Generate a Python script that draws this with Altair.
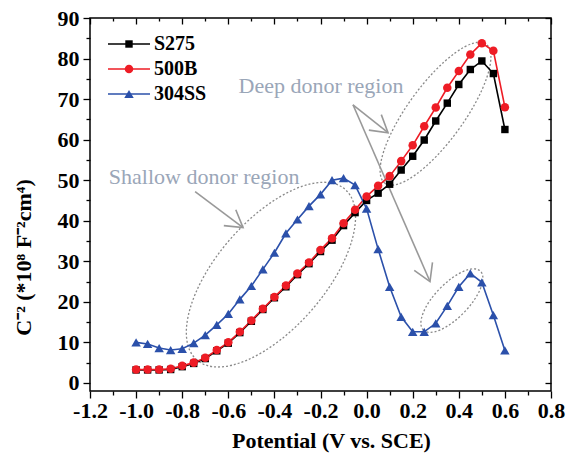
import math
import altair as alt
import pandas as pd

# ---- measured C^-2 vs potential data -------------------------------------
potential = [-1.00, -0.95, -0.90, -0.85, -0.80, -0.75, -0.70, -0.65, -0.60, -0.55,
             -0.50, -0.45, -0.40, -0.35, -0.30, -0.25, -0.20, -0.15, -0.10, -0.05,
             0.00, 0.05, 0.10, 0.15, 0.20, 0.25, 0.30, 0.35, 0.40, 0.45,
             0.50, 0.55, 0.60]
s275 = [3.2, 3.2, 3.2, 3.3, 4.0, 4.8, 6.0, 7.9, 9.8, 12.4,
        15.2, 18.1, 21.0, 23.7, 26.7, 29.4, 32.4, 35.2, 38.8, 42.0,
        45.0, 46.8, 49.0, 52.5, 55.9, 59.9, 64.6, 69.0, 73.6, 77.3,
        79.4, 76.3, 62.5]
b500 = [3.3, 3.3, 3.3, 3.5, 4.2, 5.0, 6.2, 8.1, 10.0, 12.6,
        15.4, 18.3, 21.2, 24.0, 27.0, 29.7, 32.8, 35.7, 39.4, 42.7,
        46.0, 48.6, 51.0, 54.7, 58.6, 63.3, 67.9, 72.8, 76.9, 81.0,
        83.8, 81.9, 68.0]
ss304 = [10.0, 9.6, 8.6, 8.1, 8.4, 9.8, 11.8, 14.3, 17.0, 20.6,
         23.9, 28.0, 32.1, 36.9, 40.3, 43.6, 46.5, 50.0, 50.5, 48.8,
         43.0, 33.0, 23.7, 16.3, 12.6, 12.6, 14.7, 19.0, 23.7, 27.0,
         24.8, 16.7, 8.0]

samples = ["S275", "500B", "304SS"]
colors = ["#000000", "#ee1c25", "#2b50aa"]
shapes = ["square", "circle", "triangle-up"]
marker_sizes = [55, 90, 110]

x_major = [-1.2, -1.0, -0.8, -0.6, -0.4, -0.2, 0.0, 0.2, 0.4, 0.6, 0.8]
x_minor = [-1.1, -0.9, -0.7, -0.5, -0.3, -0.1, 0.1, 0.3, 0.5, 0.7]
y_major = [0, 10, 20, 30, 40, 50, 60, 70, 80, 90]
y_minor = [5, 15, 25, 35, 45, 55, 65, 75, 85]

# ---- annotation geometry (data units) -------------------------------------
region_labels = ["Shallow donor region", "Deep donor region"]
label_x = [-0.705, -0.198]
label_y = [50.9, 73.3]

arrow_x0 = [-0.744, -0.059, -0.059]
arrow_y0 = [47.2, 68.6, 68.6]
arrow_x1 = [-0.536, 0.093, 0.275]
arrow_y1 = [38.3, 61.7, 25.0]

# ellipses: centre (data units), semi-axes in px, tilt in degrees (clockwise)
ell_cx = [-0.415, 0.299, 0.370]
ell_cy = [26.7, 66.4, 20.3]
ell_a = [113, 86, 41]
ell_b = [54, 28, 17]
ell_tilt = [311, 306, 314]

# ---- layout ----------------------------------------------------------------
W, H = 461, 373
X_DOM = [-1.2, 0.8]
Y_DOM = [-2, 90]
FONT = "Liberation Serif"
GREY = "#999999"
NOTE = "#9aa6b8"

px_per_x = W / (X_DOM[1] - X_DOM[0])
px_per_y = H / (Y_DOM[1] - Y_DOM[0])

rows = []
for name, vals in zip(samples, [s275, b500, ss304]):
    for p, v in zip(potential, vals):
        rows.append({"potential": p, "value": v, "sample": name})
df = pd.DataFrame(rows)

xscale = alt.Scale(domain=X_DOM, nice=False, zero=False)
yscale = alt.Scale(domain=Y_DOM, nice=False, zero=False)
cscale = alt.Scale(domain=samples, range=colors)
sscale = alt.Scale(domain=samples, range=shapes)
zscale = alt.Scale(domain=samples, range=marker_sizes)

tick_style = dict(domain=False, grid=False, tickColor="black", tickWidth=1.3)
label_style = dict(labelFont=FONT, labelFontSize=22, labelFontWeight="bold",
                   labelColor="black", labelOverlap=False, labelFlush=False)


def xenc(axis):
    return alt.X("potential:Q", scale=xscale, axis=axis)


def yenc(axis):
    return alt.Y("value:Q", scale=yscale, axis=axis)


ax_bottom = alt.Axis(orient="bottom", values=x_major, tickSize=7, labelPadding=2,
                     labelExpr="replace(datum.label, '\u2212', '-')",
                     title="Potential (V vs. SCE)", titleFont=FONT, titleFontSize=22,
                     titleFontWeight="bold", titleColor="black", titleX=241, titleY=56,
                     titleAlign="center", titleBaseline="alphabetic",
                     **tick_style, **label_style)
ax_left = alt.Axis(orient="left", values=y_major, tickSize=7, labelPadding=4,
                   title="C\u207b\u00b2 (*10\u2078 F\u207b\u00b2cm\u2074)", titleFont=FONT,
                   titleFontSize=22, titleFontWeight="bold", titleColor="black",
                   titleAngle=270, titleX=-67, titleY=239, titleAlign="center",
                   titleBaseline="middle", **tick_style, **label_style)
ax_bottom_minor = alt.Axis(orient="bottom", values=x_minor, tickSize=4, labels=False,
                           title="", **tick_style)
ax_left_minor = alt.Axis(orient="left", values=y_minor, tickSize=4, labels=False,
                         title="", **tick_style)
ax_top = alt.Axis(orient="bottom", offset=-H, values=x_major, tickSize=6, labels=False,
                  title="", **tick_style)
ax_top_minor = alt.Axis(orient="bottom", offset=-H, values=x_minor, tickSize=3,
                        labels=False, title="", **tick_style)
ax_right = alt.Axis(orient="left", offset=-W, values=y_major, tickSize=6, labels=False,
                    title="", **tick_style)
ax_right_minor = alt.Axis(orient="left", offset=-W, values=y_minor, tickSize=3,
                          labels=False, title="", **tick_style)

base = alt.Chart(df)

lines = base.mark_line(strokeWidth=1.6).encode(
    x=xenc(ax_bottom), y=yenc(ax_left),
    color=alt.Color("sample:N", scale=cscale, legend=None),
)
points = base.mark_point(filled=True, opacity=1).encode(
    x=xenc(ax_bottom_minor), y=yenc(ax_left_minor),
    color=alt.Color("sample:N", scale=cscale, legend=None),
    shape=alt.Shape("sample:N", scale=sscale, legend=None),
    size=alt.Size("sample:N", scale=zscale, legend=None),
)
frame_major = base.mark_point(opacity=0).encode(x=xenc(ax_top), y=yenc(ax_right))
frame_minor = base.mark_point(opacity=0).encode(x=xenc(ax_top_minor), y=yenc(ax_right_minor))

# dotted ellipses drawn as custom symbol paths
ellipse_layers = []
for cx, cy, a, b, t in zip(ell_cx, ell_cy, ell_a, ell_b, ell_tilt):
    r = b / a
    path = f"M-1,0A1,{r:.4f},0,1,1,1,0A1,{r:.4f},0,1,1,-1,0Z"
    ell_df = pd.DataFrame({"cx": [cx], "cy": [cy]})
    ellipse_layers.append(
        alt.Chart(ell_df).mark_point(shape=path, size=(2 * a) ** 2, angle=t, filled=False,
                                     stroke="#8a8a8a", strokeWidth=1.3, strokeDash=[2, 2],
                                     opacity=1)
        .encode(x=alt.X("cx:Q", scale=xscale, axis=None),
                y=alt.Y("cy:Q", scale=yscale, axis=None))
    )

arrow_df = pd.DataFrame({"x0": arrow_x0, "y0": arrow_y0, "x1": arrow_x1, "y1": arrow_y1})
arrow_df["ang"] = [
    math.degrees(math.atan2(-(y1 - y0) * px_per_y, (x1 - x0) * px_per_x)) % 360
    for x0, y0, x1, y1 in zip(arrow_x0, arrow_y0, arrow_x1, arrow_y1)
]
shafts = alt.Chart(arrow_df).mark_rule(color=GREY, strokeWidth=1.6).encode(
    x=alt.X("x0:Q", scale=xscale, axis=None), y=alt.Y("y0:Q", scale=yscale, axis=None),
    x2="x1:Q", y2="y1:Q",
)
heads = alt.Chart(arrow_df).mark_point(
    shape="M-1,-0.6L0,0L-1,0.6", size=1100, filled=False, stroke=GREY, strokeWidth=1.6,
    opacity=1,
).encode(
    x=alt.X("x1:Q", scale=xscale, axis=None), y=alt.Y("y1:Q", scale=yscale, axis=None),
    angle=alt.Angle("ang:Q", scale=None),
)

notes = alt.Chart(pd.DataFrame({"x": label_x, "y": label_y, "t": region_labels})).mark_text(
    font=FONT, fontSize=22, color=NOTE, align="center", baseline="middle",
).encode(
    x=alt.X("x:Q", scale=xscale, axis=None), y=alt.Y("y:Q", scale=yscale, axis=None),
    text="t:N",
)

main = alt.layer(
    *ellipse_layers, shafts, heads, notes, lines, points, frame_major, frame_minor
).resolve_axis(x="independent", y="independent")

# legend: line segment + marker + label per sample
leg = alt.Chart(pd.DataFrame({"sample": samples}))
leg_y = alt.Y("sample:N", sort=samples,
              scale=alt.Scale(type="point", range=[26, 76], padding=0), axis=None)
leg_lines = leg.mark_rule(strokeWidth=1.6).encode(
    x=alt.value(18), x2=alt.value(60), y=leg_y,
    color=alt.Color("sample:N", scale=cscale, legend=None),
)
leg_pts = leg.mark_point(filled=True, opacity=1).encode(
    x=alt.value(39), y=leg_y,
    color=alt.Color("sample:N", scale=cscale, legend=None),
    shape=alt.Shape("sample:N", scale=sscale, legend=None),
    size=alt.Size("sample:N", scale=zscale, legend=None),
)
leg_txt = leg.mark_text(font=FONT, fontSize=20, fontWeight="bold", color="black",
                        align="left", baseline="middle").encode(
    x=alt.value(64), y=leg_y, text="sample:N",
)
legend = alt.layer(leg_lines, leg_pts, leg_txt)

chart = alt.layer(main, legend).resolve_scale(y="independent").properties(
    width=W, height=H,
    autosize=alt.AutoSizeParams(type="none"),
    padding={"left": 90, "top": 18, "right": 17, "bottom": 66},
    background="white",
).configure_view(stroke="black", strokeWidth=1.5)

chart.save("out.html", embed_options={"renderer": "svg", "actions": False})
